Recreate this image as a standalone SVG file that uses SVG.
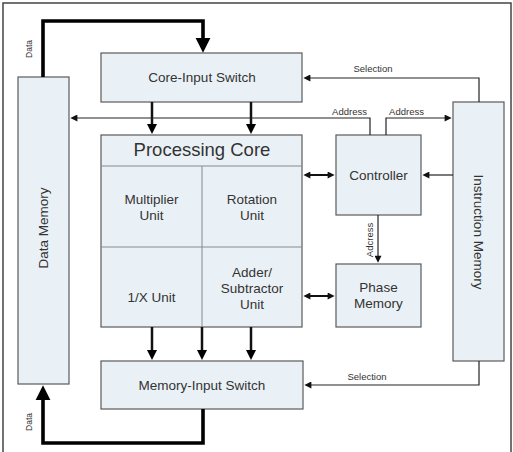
<svg xmlns="http://www.w3.org/2000/svg" width="513" height="452" viewBox="0 0 513 452">
<style>
.box{fill:#eaf1f6;stroke:#5a5a5a;stroke-width:1.2}
.div{fill:none;stroke:#8a8a8a;stroke-width:1}
.t{font-family:"Liberation Sans",Arial,sans-serif;font-size:13.5px;fill:#333;text-anchor:middle}
.s{font-family:"Liberation Sans",Arial,sans-serif;font-size:9.5px;fill:#333;text-anchor:middle}
.thin{fill:none;stroke:#222;stroke-width:1.2}
.bi{fill:none;stroke:#111;stroke-width:2}
.mid{fill:none;stroke:#111;stroke-width:2.5}
.big{fill:none;stroke:#000;stroke-width:3.6}
</style>
<defs>
<marker id="aThin" viewBox="0 0 10 10" refX="0.5" refY="5" markerUnits="userSpaceOnUse" markerWidth="8" markerHeight="7" orient="auto-start-reverse"><path d="M0,0L10,5L0,10z" fill="#111"/></marker>
<marker id="aMid" viewBox="0 0 10 10" refX="0.5" refY="5" markerUnits="userSpaceOnUse" markerWidth="11" markerHeight="10" orient="auto"><path d="M0,0L10,5L0,10z" fill="#000"/></marker>
<marker id="aBig" viewBox="0 0 10 10" refX="0.5" refY="5" markerUnits="userSpaceOnUse" markerWidth="15" markerHeight="16" orient="auto"><path d="M0,0L10,5L0,10z" fill="#000"/></marker>
</defs>
<rect x="0" y="0" width="513" height="452" fill="#fff"/>
<rect x="3" y="3" width="508" height="460" fill="none" stroke="#444" stroke-width="1.5"/>

<g id="data-memory">
<rect class="box" x="18" y="77" width="51" height="307"/>
<text class="t" transform="translate(48,228) rotate(-90)">Data Memory</text>
</g>
<g id="core-input-switch">
<rect class="box" x="101" y="53" width="201" height="49"/>
<text class="t" x="202" y="82">Core-Input Switch</text>
</g>
<g id="processing-core">
<rect class="box" x="101" y="135" width="201" height="192"/>
<path class="div" d="M101,166H302M202,166V327M101,247H302"/>
<text class="t" x="202" y="156" style="font-size:18.5px">Processing Core</text>
</g>
<g id="multiplier-unit">
<text class="t" x="151.5" y="204">Multiplier</text>
<text class="t" x="151.5" y="220">Unit</text>
</g>
<g id="rotation-unit">
<text class="t" x="252" y="204">Rotation</text>
<text class="t" x="252" y="220">Unit</text>
</g>
<g id="inverse-unit">
<text class="t" x="151.5" y="302">1/X Unit</text>
</g>
<g id="adder-subtractor-unit">
<text class="t" x="252" y="277">Adder/</text>
<text class="t" x="252" y="293">Subtractor</text>
<text class="t" x="252" y="309">Unit</text>
</g>
<g id="controller">
<rect class="box" x="336" y="135" width="85" height="80"/>
<text class="t" x="378.5" y="180">Controller</text>
</g>
<g id="phase-memory">
<rect class="box" x="336" y="264" width="85" height="63"/>
<text class="t" x="378.5" y="292">Phase</text>
<text class="t" x="378.5" y="308">Memory</text>
</g>
<g id="instruction-memory">
<rect class="box" x="453" y="102" width="51" height="259"/>
<text class="t" transform="translate(474,232) rotate(90)">Instruction Memory</text>
</g>
<g id="memory-input-switch">
<rect class="box" x="101" y="361" width="202" height="48"/>
<text class="t" x="202" y="390">Memory-Input Switch</text>
</g>

<g id="connectors">
<path class="big" d="M43,77V21H203V38.5" marker-end="url(#aBig)"/>
<path class="big" d="M203,409V443H43V399.5" marker-end="url(#aBig)"/>
<path class="mid" d="M152,102V124.5" marker-end="url(#aMid)"/>
<path class="mid" d="M251,102V124.5" marker-end="url(#aMid)"/>
<path class="mid" d="M152,327V350.5" marker-end="url(#aMid)"/>
<path class="mid" d="M202,327V350.5" marker-end="url(#aMid)"/>
<path class="mid" d="M251,327V350.5" marker-end="url(#aMid)"/>
<path class="thin" d="M370,135V118H77" marker-end="url(#aThin)"/>
<path class="thin" d="M386,135V118H445" marker-end="url(#aThin)"/>
<path class="thin" d="M479,102V78H310" marker-end="url(#aThin)"/>
<path class="thin" d="M479,361V385H311" marker-end="url(#aThin)"/>
<path class="thin" d="M453,175H429" marker-end="url(#aThin)"/>
<path class="thin" d="M378,215V256" marker-end="url(#aThin)"/>
<path class="bi" d="M310,175H328" marker-start="url(#aThin)" marker-end="url(#aThin)"/>
<path class="bi" d="M310,296H328" marker-start="url(#aThin)" marker-end="url(#aThin)"/>
<text class="s" transform="translate(32,49) rotate(-90)" style="font-size:8.5px">Data</text>
<text class="s" transform="translate(32,422) rotate(-90)" style="font-size:8.5px">Data</text>
<text class="s" x="373" y="72">Selection</text>
<text class="s" x="367" y="380">Selection</text>
<text class="s" x="349.5" y="115">Address</text>
<text class="s" x="406.5" y="115">Address</text>
<text class="s" transform="translate(373,240) rotate(-90)">Adcress</text>
</g>
</svg>
